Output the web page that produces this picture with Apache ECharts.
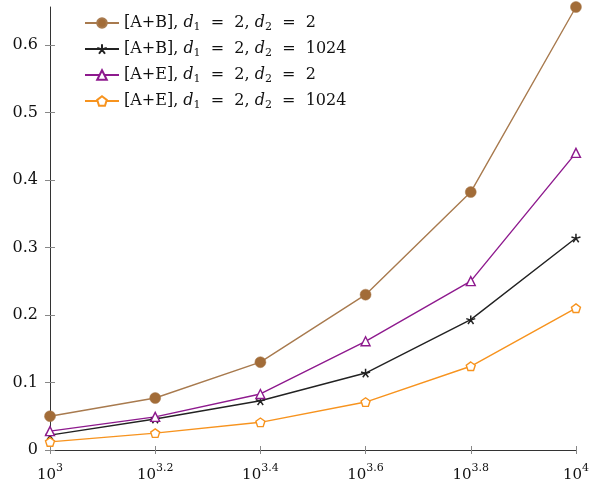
<!DOCTYPE html>
<html>
<head>
<meta charset="utf-8">
<script src="https://cdn.jsdelivr.net/npm/echarts@6/dist/echarts.min.js"></script>
<style>
  html, body { margin: 0; padding: 0; background: #fff; }
  #chart { width: 592px; height: 484px; }
</style>
</head>
<body>
<div id="chart"></div>
<script>
// log10 of the problem size on the x axis
const exponents = [3, 3.2, 3.4, 3.6, 3.8, 4];
const xTickLabels = ['3', '3.2', '3.4', '3.6', '3.8', '4'];
const yTicks = [0, 0.1, 0.2, 0.3, 0.4, 0.5, 0.6];

const seriesNames = [
  '[A+B], d1 = 2, d2 = 2',
  '[A+B], d1 = 2, d2 = 1024',
  '[A+E], d1 = 2, d2 = 2',
  '[A+E], d1 = 2, d2 = 1024'
];
const abSmall = [0.050, 0.077, 0.130, 0.230, 0.382, 0.656];
const abLarge = [0.022, 0.046, 0.073, 0.114, 0.193, 0.314];
const aeSmall = [0.028, 0.049, 0.083, 0.161, 0.250, 0.440];
const aeLarge = [0.012, 0.025, 0.041, 0.071, 0.124, 0.210];

const STAR = 'path://M0,0L0,-1M0,0L0.951,-0.309M0,0L0.588,0.809M0,0L-0.588,0.809M0,0L-0.951,-0.309';
const PENTAGON = 'path://M0,-1L0.951,-0.309L0.588,0.809L-0.588,0.809L-0.951,-0.309Z';
const FONT = '"DejaVu Serif", "Liberation Serif", serif';
const INK = '#111';

function pairs(vals) { return exponents.map((e, i) => [e, vals[i]]); }

function makeSeries(name, vals, color, symbol, size, fill, bw) {
  return {
    name: name,
    type: 'line',
    data: pairs(vals),
    symbol: symbol,
    symbolSize: size,
    symbolKeepAspect: true,
    showAllSymbol: true,
    lineStyle: { color: color, width: 1.4 },
    itemStyle: { color: fill, borderColor: color, borderWidth: bw },
    emphasis: { disabled: true },
    animation: false,
    z: 3
  };
}

const chart = echarts.init(document.getElementById('chart'), null, { renderer: 'canvas' });

const axisLineStyle = { color: '#333', width: 1 };
const tickStyle = { color: '#888', width: 1 };

chart.setOption({
  backgroundColor: '#fff',
  animation: false,
  grid: { left: 50, right: 12, top: 7, bottom: 34 },
  legend: {
    left: 79,
    top: 8,
    orient: 'vertical',
    itemWidth: 34,
    itemHeight: 12,
    itemGap: 6,
    data: seriesNames,
    textStyle: {
      fontFamily: FONT,
      fontSize: 16,
      color: INK,
      lineHeight: 20,
      rich: {
        i: { fontFamily: FONT, fontStyle: 'italic', fontSize: 16, color: INK, lineHeight: 20 },
        s: { fontFamily: FONT, fontSize: 11, color: INK, lineHeight: 20, verticalAlign: 'bottom' }
      }
    },
    formatter: function (name) {
      return name.replace(/d(\d)/g, '{i|d}{s|$1}').replace(/ = /g, '  =  ');
    }
  },
  xAxis: [{
    type: 'value',
    min: 3,
    max: 4,
    interval: 0.2,
    axisLine: { show: true, lineStyle: axisLineStyle },
    axisTick: { show: true, length: 4, inside: false, lineStyle: tickStyle },
    splitLine: { show: false },
    axisLabel: {
      margin: 13,
      fontFamily: FONT,
      fontSize: 15,
      color: INK,
      formatter: function (v) {
        const i = exponents.findIndex(e => Math.abs(e - v) < 1e-6);
        return '{b|10}{p|' + xTickLabels[i] + '}';
      },
      rich: {
        b: { fontFamily: FONT, fontSize: 15, color: INK, lineHeight: 20, verticalAlign: 'bottom' },
        p: { fontFamily: FONT, fontSize: 11, color: INK, lineHeight: 20, verticalAlign: 'top' }
      }
    }
  }, {
    type: 'value', min: 3, max: 4, interval: 0.2, position: 'bottom',
    axisLine: { show: false },
    axisTick: { show: true, length: 4, inside: true, lineStyle: tickStyle },
    axisLabel: { show: false }, splitLine: { show: false }
  }],
  yAxis: [{
    type: 'value',
    min: 0,
    max: 0.656,
    axisLine: { show: true, lineStyle: axisLineStyle },
    axisTick: { show: true, length: 5, inside: false, customValues: yTicks, lineStyle: tickStyle },
    splitLine: { show: false },
    axisLabel: {
      customValues: yTicks,
      margin: 12,
      fontFamily: FONT,
      fontSize: 16,
      color: INK,
      formatter: function (v) { return String(Math.round(v * 10) / 10); }
    }
  }, {
    type: 'value', min: 0, max: 0.656, position: 'left',
    axisLine: { show: false },
    axisTick: { show: true, length: 5, inside: true, customValues: yTicks, lineStyle: tickStyle },
    axisLabel: { show: false }, splitLine: { show: false }
  }],
  series: [
    makeSeries(seriesNames[0], abSmall, '#a87a4e', 'circle', 11, '#a26c38', 0.5),
    makeSeries(seriesNames[1], abLarge, '#222222', STAR, 9, 'none', 1.5),
    makeSeries(seriesNames[2], aeSmall, '#8e1a8e', 'triangle', 9, '#ffffff', 1.4),
    makeSeries(seriesNames[3], aeLarge, '#f7931e', PENTAGON, 9, '#ffffff', 1.4)
  ]
});
</script>
</body>
</html>
